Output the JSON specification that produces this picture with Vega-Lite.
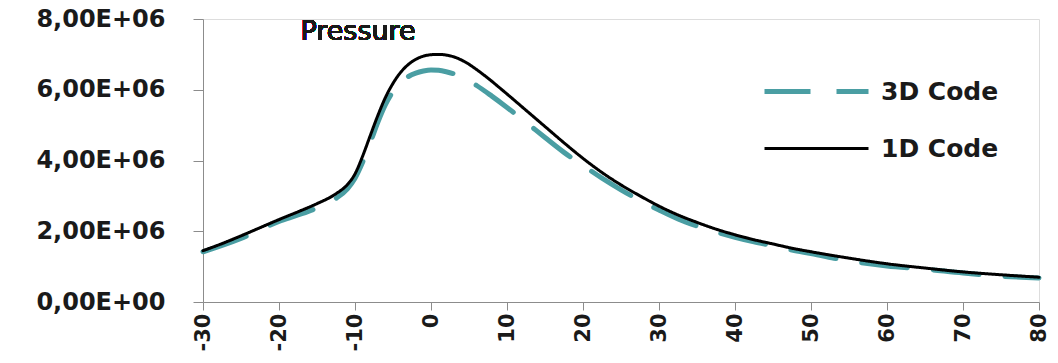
{
  "$schema": "https://vega.github.io/schema/vega-lite/v6.json",
  "autosize": "none",
  "width": 836,
  "height": 283,
  "padding": {"left": 203, "top": 19, "right": 19, "bottom": 61},
  "background": "white",
  "data": {
    "values": [
      {"x": -30, "p": 1420000, "series": "3D Code"},
      {"x": -25, "p": 1800000, "series": "3D Code"},
      {"x": -20, "p": 2280000, "series": "3D Code"},
      {"x": -17.5, "p": 2460000, "series": "3D Code"},
      {"x": -15, "p": 2660000, "series": "3D Code"},
      {"x": -12.5, "p": 2930000, "series": "3D Code"},
      {"x": -11, "p": 3200000, "series": "3D Code"},
      {"x": -10, "p": 3500000, "series": "3D Code"},
      {"x": -9, "p": 3950000, "series": "3D Code"},
      {"x": -8, "p": 4500000, "series": "3D Code"},
      {"x": -7, "p": 5080000, "series": "3D Code"},
      {"x": -6, "p": 5580000, "series": "3D Code"},
      {"x": -5, "p": 5950000, "series": "3D Code"},
      {"x": -4, "p": 6200000, "series": "3D Code"},
      {"x": -3, "p": 6370000, "series": "3D Code"},
      {"x": -2, "p": 6470000, "series": "3D Code"},
      {"x": -1, "p": 6530000, "series": "3D Code"},
      {"x": 0, "p": 6560000, "series": "3D Code"},
      {"x": 1, "p": 6550000, "series": "3D Code"},
      {"x": 2, "p": 6510000, "series": "3D Code"},
      {"x": 3, "p": 6450000, "series": "3D Code"},
      {"x": 4, "p": 6360000, "series": "3D Code"},
      {"x": 5, "p": 6250000, "series": "3D Code"},
      {"x": 6, "p": 6120000, "series": "3D Code"},
      {"x": 8, "p": 5820000, "series": "3D Code"},
      {"x": 10, "p": 5500000, "series": "3D Code"},
      {"x": 12.5, "p": 5080000, "series": "3D Code"},
      {"x": 15, "p": 4650000, "series": "3D Code"},
      {"x": 17.5, "p": 4230000, "series": "3D Code"},
      {"x": 20, "p": 3860000, "series": "3D Code"},
      {"x": 22.5, "p": 3500000, "series": "3D Code"},
      {"x": 25, "p": 3170000, "series": "3D Code"},
      {"x": 27.5, "p": 2870000, "series": "3D Code"},
      {"x": 30, "p": 2600000, "series": "3D Code"},
      {"x": 32.5, "p": 2350000, "series": "3D Code"},
      {"x": 35, "p": 2150000, "series": "3D Code"},
      {"x": 37.5, "p": 1980000, "series": "3D Code"},
      {"x": 40, "p": 1830000, "series": "3D Code"},
      {"x": 42.5, "p": 1700000, "series": "3D Code"},
      {"x": 45, "p": 1590000, "series": "3D Code"},
      {"x": 47.5, "p": 1470000, "series": "3D Code"},
      {"x": 50, "p": 1370000, "series": "3D Code"},
      {"x": 55, "p": 1160000, "series": "3D Code"},
      {"x": 60, "p": 1020000, "series": "3D Code"},
      {"x": 65, "p": 930000, "series": "3D Code"},
      {"x": 70, "p": 820000, "series": "3D Code"},
      {"x": 75, "p": 730000, "series": "3D Code"},
      {"x": 80, "p": 680000, "series": "3D Code"},
      {"x": -30, "p": 1450000, "series": "1D Code"},
      {"x": -27.5, "p": 1650000, "series": "1D Code"},
      {"x": -25, "p": 1870000, "series": "1D Code"},
      {"x": -22.5, "p": 2100000, "series": "1D Code"},
      {"x": -20, "p": 2330000, "series": "1D Code"},
      {"x": -17.5, "p": 2550000, "series": "1D Code"},
      {"x": -15, "p": 2780000, "series": "1D Code"},
      {"x": -12.5, "p": 3060000, "series": "1D Code"},
      {"x": -11, "p": 3320000, "series": "1D Code"},
      {"x": -10, "p": 3620000, "series": "1D Code"},
      {"x": -9, "p": 4120000, "series": "1D Code"},
      {"x": -8, "p": 4700000, "series": "1D Code"},
      {"x": -7, "p": 5270000, "series": "1D Code"},
      {"x": -6, "p": 5780000, "series": "1D Code"},
      {"x": -5, "p": 6180000, "series": "1D Code"},
      {"x": -4, "p": 6490000, "series": "1D Code"},
      {"x": -3, "p": 6710000, "series": "1D Code"},
      {"x": -2, "p": 6860000, "series": "1D Code"},
      {"x": -1, "p": 6950000, "series": "1D Code"},
      {"x": 0, "p": 6990000, "series": "1D Code"},
      {"x": 1, "p": 7000000, "series": "1D Code"},
      {"x": 2, "p": 6980000, "series": "1D Code"},
      {"x": 3, "p": 6930000, "series": "1D Code"},
      {"x": 4, "p": 6840000, "series": "1D Code"},
      {"x": 5, "p": 6720000, "series": "1D Code"},
      {"x": 6, "p": 6570000, "series": "1D Code"},
      {"x": 7, "p": 6410000, "series": "1D Code"},
      {"x": 8, "p": 6240000, "series": "1D Code"},
      {"x": 9, "p": 6060000, "series": "1D Code"},
      {"x": 10, "p": 5880000, "series": "1D Code"},
      {"x": 12.5, "p": 5420000, "series": "1D Code"},
      {"x": 15, "p": 4960000, "series": "1D Code"},
      {"x": 17.5, "p": 4500000, "series": "1D Code"},
      {"x": 20, "p": 4060000, "series": "1D Code"},
      {"x": 22.5, "p": 3660000, "series": "1D Code"},
      {"x": 25, "p": 3310000, "series": "1D Code"},
      {"x": 27.5, "p": 3000000, "series": "1D Code"},
      {"x": 30, "p": 2710000, "series": "1D Code"},
      {"x": 32.5, "p": 2460000, "series": "1D Code"},
      {"x": 35, "p": 2250000, "series": "1D Code"},
      {"x": 37.5, "p": 2060000, "series": "1D Code"},
      {"x": 40, "p": 1900000, "series": "1D Code"},
      {"x": 42.5, "p": 1760000, "series": "1D Code"},
      {"x": 45, "p": 1640000, "series": "1D Code"},
      {"x": 47.5, "p": 1520000, "series": "1D Code"},
      {"x": 50, "p": 1420000, "series": "1D Code"},
      {"x": 55, "p": 1240000, "series": "1D Code"},
      {"x": 60, "p": 1080000, "series": "1D Code"},
      {"x": 65, "p": 960000, "series": "1D Code"},
      {"x": 70, "p": 850000, "series": "1D Code"},
      {"x": 75, "p": 770000, "series": "1D Code"},
      {"x": 80, "p": 700000, "series": "1D Code"}
    ]
  },
  "encoding": {
    "x": {
      "field": "x",
      "type": "quantitative",
      "scale": {"domain": [-30, 80], "nice": false, "zero": false},
      "axis": {
        "title": null,
        "values": [-30, -20, -10, 0, 10, 20, 30, 40, 50, 60, 70, 80],
        "labelExpr": "'' + datum.value",
        "grid": false,
        "domainColor": "#8c8c8c",
        "tickColor": "#8c8c8c",
        "tickSize": 8,
        "labelAngle": 270,
        "labelPadding": 3,
        "labelFont": "DejaVu Sans",
        "labelFontWeight": "bold",
        "labelFontSize": 21,
        "labelColor": "#1a1a1a"
      }
    },
    "y": {
      "field": "p",
      "type": "quantitative",
      "scale": {"domain": [0, 8000000], "nice": false},
      "axis": {
        "title": null,
        "values": [0, 2000000, 4000000, 6000000, 8000000],
        "grid": false,
        "domainColor": "#8c8c8c",
        "tickColor": "#8c8c8c",
        "tickSize": 10,
        "labelPadding": 28,
        "labelFont": "DejaVu Sans",
        "labelFontWeight": "bold",
        "labelFontSize": 24,
        "labelColor": "#1a1a1a",
        "labelExpr": "datum.value == 0 ? '0,00E+00' : replace(format(datum.value / 1000000, '.2f'), '.', ',') + 'E+06'"
      }
    }
  },
  "layer": [
    {
      "mark": {"type": "line", "interpolate": "monotone", "strokeCap": "round"},
      "encoding": {
        "color": {
          "field": "series",
          "type": "nominal",
          "scale": {"domain": ["3D Code", "1D Code"], "range": ["#4a9ea3", "#000000"]},
          "legend": {
            "title": null,
            "orient": "none",
            "legendX": 559,
            "legendY": 44,
            "symbolType": "M-1,0H3",
            "symbolSize": 2704,
            "labelFont": "DejaVu Sans",
            "labelFontWeight": "bold",
            "labelFontSize": 25,
            "labelColor": "#1a1a1a",
            "labelOffset": 62,
            "rowPadding": 16,
            "padding": 0
          }
        },
        "strokeDash": {
          "field": "series",
          "type": "nominal",
          "scale": {"domain": ["3D Code", "1D Code"], "range": [[46, 26], [1, 0]]}
        },
        "strokeWidth": {
          "field": "series",
          "type": "nominal",
          "scale": {"domain": ["3D Code", "1D Code"], "range": [5, 3]}
        }
      }
    },
    {
      "mark": {
        "type": "text",
        "text": "Pressure",
        "align": "center",
        "baseline": "alphabetic",
        "font": "DejaVu Sans",
        "fontSize": 27,
        "color": "#1a1a1a"
      },
      "encoding": {
        "x": {"datum": -9.6, "type": "quantitative"},
        "y": {"datum": 7410000, "type": "quantitative"}
      }
    }
  ]
}
